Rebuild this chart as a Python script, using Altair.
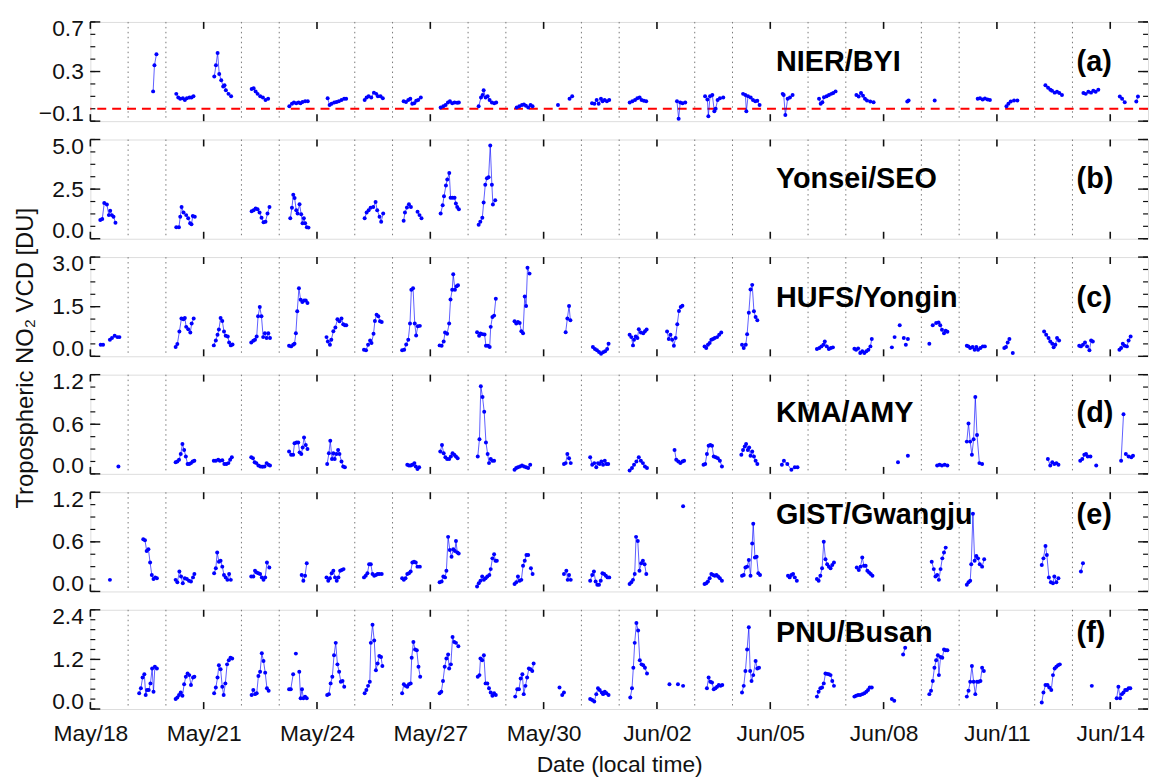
import altair as alt
import pandas as pd

# ---------------- axis structure ----------------
DAY_TICKS = [0, 3, 6, 9, 12, 15, 18, 21, 24, 27]
DAY_LABELS = ["May/18", "May/21", "May/24", "May/27", "May/30",
              "Jun/02", "Jun/05", "Jun/08", "Jun/11", "Jun/14"]
GRID_DAYS = [1, 2, 4, 5, 7, 8, 10, 11, 13, 14, 16, 17, 19, 20, 22, 23, 25, 26]
X_DOMAIN = [0, 28]
X_TITLE = "Date (local time)"
Y_TITLE = "Tropospheric NO\u2082 VCD [DU]"

SITES = ["NIER/BYI", "Yonsei/SEO", "HUFS/Yongin", "KMA/AMY", "GIST/Gwangju", "PNU/Busan"]
TAGS = ["(a)", "(b)", "(c)", "(d)", "(e)", "(f)"]
Y_DOMAINS = [[-0.1, 0.7], [0, 5], [0, 3], [0, 1.2], [0, 1.2], [0, 2.4]]
Y_MAJOR = [[-0.1, 0.3, 0.7], [0, 2.5, 5], [0, 1.5, 3], [0, 0.6, 1.2], [0, 0.6, 1.2], [0, 1.2, 2.4]]
Y_MINOR = [
    [-0.1, 0.0, 0.1, 0.2, 0.3, 0.4, 0.5, 0.6, 0.7],
    [0, 0.625, 1.25, 1.875, 2.5, 3.125, 3.75, 4.375, 5],
    [0, 0.375, 0.75, 1.125, 1.5, 1.875, 2.25, 2.625, 3],
    [0, 0.15, 0.3, 0.45, 0.6, 0.75, 0.9, 1.05, 1.2],
    [0, 0.15, 0.3, 0.45, 0.6, 0.75, 0.9, 1.05, 1.2],
    [0, 0.24, 0.48, 0.72, 0.96, 1.2, 1.44, 1.68, 1.92, 2.16, 2.4],
]
REF_LINE_A = 0.0

# ---------------- data: segments of [day since May/18 00:00, VCD] ----------------
NIER_BYI = [
    [[1.662, 0.14], [1.697, 0.35], [1.750, 0.44]],
    [[2.275, 0.12], [2.327, 0.09], [2.380, 0.08], [2.450, 0.085], [2.502, 0.07], [2.555, 0.085], [2.625, 0.09], [2.677, 0.09], [2.730, 0.10]],
    [[3.281, 0.26], [3.325, 0.35], [3.369, 0.45], [3.412, 0.28], [3.465, 0.23], [3.517, 0.18], [3.552, 0.19], [3.587, 0.15], [3.657, 0.12], [3.727, 0.10]],
    [[4.270, 0.16], [4.322, 0.165], [4.375, 0.14], [4.427, 0.12], [4.497, 0.10], [4.567, 0.09], [4.637, 0.07], [4.707, 0.08]],
    [[5.267, 0.02], [5.337, 0.04], [5.389, 0.05], [5.451, 0.045], [5.512, 0.05], [5.564, 0.045], [5.617, 0.055], [5.687, 0.06], [5.757, 0.06]],
    [[6.282, 0.085], [6.334, 0.03], [6.387, 0.04], [6.457, 0.05], [6.518, 0.055], [6.579, 0.06], [6.649, 0.07], [6.719, 0.08], [6.772, 0.08]],
    [[7.262, 0.07], [7.314, 0.09], [7.367, 0.10], [7.437, 0.09], [7.507, 0.13], [7.568, 0.12], [7.612, 0.10], [7.682, 0.10], [7.743, 0.085]],
    [[8.294, 0.06], [8.356, 0.055], [8.417, 0.07], [8.470, 0.08], [8.522, 0.04], [8.574, 0.045], [8.627, 0.065], [8.679, 0.07], [8.749, 0.09]],
    [[9.274, 0.01], [9.344, 0.02], [9.405, 0.03], [9.467, 0.05], [9.519, 0.06], [9.581, 0.045], [9.642, 0.05], [9.712, 0.048], [9.756, 0.05]],
    [[10.280, 0.02], [10.342, 0.09], [10.385, 0.11], [10.412, 0.15], [10.464, 0.09], [10.517, 0.10], [10.569, 0.07], [10.630, 0.05], [10.692, 0.045], [10.744, 0.05]],
    [[11.287, 0.01], [11.356, 0.02], [11.426, 0.03], [11.479, 0.035], [11.531, 0.025], [11.593, 0.01], [11.654, 0.03], [11.707, 0.02]],
    [[12.380, 0.03]],
    [[12.686, 0.08], [12.756, 0.10]],
    [[13.281, 0.045], [13.343, 0.04], [13.404, 0.07], [13.456, 0.04], [13.518, 0.08], [13.561, 0.06], [13.614, 0.07], [13.675, 0.06], [13.736, 0.07]],
    [[14.279, 0.05], [14.349, 0.06], [14.419, 0.07], [14.480, 0.085], [14.541, 0.09], [14.594, 0.07], [14.655, 0.065], [14.716, 0.06]],
    [[15.530, 0.06], [15.574, -0.08], [15.617, 0.05], [15.679, 0.045], [15.749, 0.05]],
    [[16.274, 0.10], [16.335, 0.075], [16.361, -0.06], [16.405, 0.10], [16.466, 0.11], [16.519, -0.02], [16.554, 0.0], [16.606, 0.07], [16.667, 0.085], [16.755, 0.09]],
    [[17.280, 0.12], [17.341, 0.11], [17.367, -0.02], [17.411, 0.10], [17.481, 0.09], [17.542, 0.07], [17.603, 0.06], [17.656, 0.065], [17.717, 0.03]],
    [[18.329, 0.12], [18.355, 0.11], [18.399, -0.05], [18.460, 0.08], [18.521, 0.09], [18.591, 0.11]],
    [[19.291, 0.08], [19.335, 0.04], [19.379, 0.053], [19.422, 0.093], [19.492, 0.10], [19.553, 0.11], [19.615, 0.12], [19.667, 0.127], [19.728, 0.14]],
    [[20.280, 0.11], [20.341, 0.098], [20.402, 0.127], [20.455, 0.105], [20.507, 0.08], [20.560, 0.066], [20.647, 0.058], [20.735, 0.053]],
    [[21.627, 0.058], [21.662, 0.066]],
    [[22.353, 0.066]],
    [[23.491, 0.08], [23.552, 0.085], [23.622, 0.074], [23.683, 0.082], [23.753, 0.074], [23.814, 0.071]],
    [[24.252, 0.02], [24.304, 0.04], [24.366, 0.058], [24.453, 0.066], [24.541, 0.066]],
    [[25.284, 0.19], [25.354, 0.17], [25.415, 0.153], [25.459, 0.145], [25.529, 0.13], [25.590, 0.137], [25.652, 0.127], [25.722, 0.11]],
    [[26.290, 0.127], [26.351, 0.12], [26.421, 0.137], [26.491, 0.13], [26.552, 0.145], [26.614, 0.137], [26.684, 0.153]],
    [[27.253, 0.098], [27.314, 0.08], [27.384, 0.053]],
    [[27.690, 0.058], [27.734, 0.098]],
]

YONSEI_SEO = [
    [[0.263, 0.94], [0.315, 0.99], [0.368, 1.80], [0.438, 1.72], [0.490, 1.19], [0.525, 1.41], [0.569, 1.19], [0.613, 1.11], [0.665, 0.81]],
    [[2.275, 0.58], [2.345, 0.58], [2.380, 1.11], [2.415, 1.60], [2.467, 1.32], [2.537, 1.19], [2.590, 1.03], [2.642, 0.78], [2.677, 0.73], [2.712, 1.14], [2.765, 1.11]],
    [[4.270, 1.39], [4.322, 1.44], [4.375, 1.52], [4.427, 1.49], [4.480, 1.32], [4.532, 1.06], [4.585, 0.83], [4.637, 0.86], [4.690, 1.27], [4.742, 1.60]],
    [[5.293, 1.03], [5.337, 1.56], [5.372, 2.22], [5.407, 2.05], [5.451, 1.44], [5.486, 1.27], [5.538, 1.74], [5.582, 1.23], [5.617, 0.78], [5.652, 1.03], [5.687, 0.78], [5.731, 0.58], [5.775, 0.56]],
    [[7.262, 1.03], [7.314, 1.32], [7.367, 1.44], [7.419, 1.56], [7.489, 1.60], [7.551, 1.85], [7.594, 1.44], [7.656, 1.11], [7.699, 0.86], [7.752, 1.27]],
    [[8.294, 0.91], [8.329, 1.32], [8.382, 1.57], [8.434, 1.74], [8.487, 1.60]],
    [[8.662, 1.36], [8.714, 1.19], [8.767, 1.03]],
    [[9.274, 1.27], [9.327, 1.69], [9.362, 2.14], [9.414, 2.68], [9.449, 2.98], [9.502, 3.31], [9.537, 2.07], [9.589, 2.07], [9.642, 2.07], [9.677, 1.77], [9.712, 1.60], [9.756, 1.49]],
    [[10.280, 0.70], [10.324, 0.86], [10.377, 1.06], [10.412, 1.82], [10.455, 2.72], [10.499, 3.05], [10.543, 3.10], [10.587, 4.70], [10.630, 2.72], [10.657, 1.72], [10.718, 1.94]],
]

HUFS_YONGIN = [
    [[0.274, 0.35], [0.337, 0.35]],
    [[0.518, 0.50], [0.572, 0.55], [0.644, 0.62], [0.716, 0.58], [0.770, 0.58]],
    [[2.258, 0.28], [2.303, 0.37], [2.357, 0.75], [2.411, 1.14], [2.465, 1.12], [2.501, 1.16], [2.537, 0.89], [2.591, 0.82], [2.646, 0.72], [2.682, 0.99], [2.736, 1.14]],
    [[3.268, 0.33], [3.322, 0.48], [3.367, 0.65], [3.403, 0.81], [3.448, 1.16], [3.493, 1.07], [3.538, 0.75], [3.583, 0.62], [3.638, 0.60], [3.674, 0.42], [3.719, 0.33], [3.764, 0.36]],
    [[4.260, 0.42], [4.314, 0.47], [4.359, 0.50], [4.404, 0.60], [4.440, 1.21], [4.485, 1.49], [4.530, 1.21], [4.575, 0.58], [4.620, 0.70], [4.666, 0.55], [4.711, 0.70], [4.756, 0.55]],
    [[5.261, 0.32], [5.315, 0.30], [5.369, 0.35], [5.405, 0.38], [5.441, 0.70], [5.477, 1.36], [5.522, 2.06], [5.567, 1.71], [5.612, 1.64], [5.657, 1.69], [5.703, 1.69], [5.748, 1.61]],
    [[6.252, 0.58], [6.288, 0.45], [6.343, 0.35], [6.379, 0.50], [6.433, 0.76], [6.487, 0.87], [6.541, 1.12], [6.595, 1.06], [6.649, 1.14], [6.694, 0.97], [6.739, 0.94], [6.775, 0.94]],
    [[7.244, 0.20], [7.298, 0.18], [7.352, 0.35], [7.407, 0.48], [7.443, 0.40], [7.497, 0.68], [7.533, 1.07], [7.578, 1.26], [7.623, 1.21], [7.668, 1.06], [7.713, 1.04]],
    [[8.254, 0.18], [8.308, 0.20], [8.362, 0.36], [8.416, 0.50], [8.462, 0.99], [8.498, 2.01], [8.543, 2.06], [8.588, 0.99], [8.624, 0.63], [8.669, 0.91], [8.723, 0.92]],
    [[9.246, 0.33], [9.300, 0.32], [9.354, 0.45], [9.390, 0.72], [9.445, 0.68], [9.499, 0.99], [9.535, 1.72], [9.580, 2.01], [9.607, 2.48], [9.652, 2.01], [9.697, 2.12], [9.733, 2.15]],
    [[10.238, 0.73], [10.292, 0.62], [10.328, 0.69], [10.382, 0.67], [10.436, 0.66], [10.473, 0.32], [10.527, 0.32], [10.572, 0.28], [10.599, 0.89], [10.644, 1.19], [10.689, 1.23], [10.734, 1.74]],
    [[11.230, 1.06], [11.275, 0.99], [11.320, 1.04], [11.365, 1.01], [11.410, 0.76], [11.455, 0.70], [11.500, 1.81], [11.536, 1.52], [11.573, 2.68], [11.627, 2.50]],
    [[12.583, 0.73], [12.628, 1.14], [12.673, 1.52], [12.709, 1.09]],
    [[13.304, 0.28], [13.358, 0.22], [13.412, 0.18], [13.466, 0.13], [13.520, 0.08], [13.574, 0.12], [13.628, 0.15], [13.682, 0.22], [13.719, 0.38]],
    [[14.276, 0.65], [14.321, 0.58], [14.366, 0.33], [14.393, 0.50], [14.438, 0.60], [14.483, 0.55], [14.519, 0.82], [14.574, 0.72], [14.637, 0.70], [14.682, 0.76], [14.727, 0.81]],
    [[15.268, 0.75], [15.313, 0.52], [15.358, 0.65], [15.403, 0.50], [15.448, 0.32], [15.493, 0.55], [15.538, 0.97], [15.583, 1.37], [15.629, 1.49], [15.674, 1.53]],
    [[16.260, 0.30], [16.305, 0.25], [16.350, 0.35], [16.395, 0.40], [16.440, 0.50], [16.485, 0.52], [16.530, 0.55], [16.593, 0.58], [16.647, 0.65], [16.702, 0.72]],
    [[17.252, 0.35], [17.297, 0.25], [17.351, 0.35], [17.387, 0.67], [17.432, 1.32], [17.477, 2.02], [17.522, 2.16], [17.567, 1.36], [17.612, 1.19], [17.657, 1.09]],
    [[19.235, 0.22], [19.299, 0.25], [19.353, 0.30], [19.407, 0.35], [19.443, 0.45], [19.497, 0.30], [19.551, 0.22], [19.605, 0.25], [19.659, 0.27]],
    [[20.227, 0.23], [20.272, 0.20], [20.326, 0.24], [20.381, 0.10], [20.435, 0.15], [20.489, 0.10], [20.543, 0.15], [20.597, 0.20], [20.651, 0.30], [20.687, 0.52]],
    [[21.219, 0.27]], [[21.291, 0.58]], [[21.427, 0.94]], [[21.535, 0.55]], [[21.589, 0.35]], [[21.643, 0.52]],
    [[22.211, 0.38]],
    [[22.301, 0.94], [22.391, 1.01], [22.455, 1.02], [22.500, 0.94], [22.545, 0.80], [22.599, 0.70], [22.644, 0.77], [22.689, 0.74]],
    [[23.203, 0.32], [23.248, 0.30], [23.293, 0.25], [23.356, 0.28], [23.410, 0.20], [23.455, 0.28], [23.500, 0.20], [23.564, 0.25], [23.627, 0.30], [23.681, 0.30]],
    [[24.195, 0.25], [24.240, 0.28], [24.285, 0.42], [24.330, 0.52]],
    [[24.420, 0.10]],
    [[25.250, 0.75], [25.304, 0.65], [25.367, 0.55], [25.412, 0.45], [25.466, 0.38], [25.502, 0.27], [25.547, 0.35], [25.592, 0.55], [25.646, 0.48]],
    [[26.179, 0.32], [26.224, 0.30], [26.278, 0.35], [26.332, 0.42], [26.386, 0.30], [26.449, 0.18], [26.494, 0.48], [26.539, 0.45]],
    [[27.243, 0.20], [27.288, 0.25], [27.333, 0.38], [27.378, 0.32], [27.441, 0.30], [27.486, 0.48], [27.540, 0.60]],
]

KMA_AMY = [
    [[0.743, 0.09]],
    [[2.258, 0.14], [2.303, 0.15], [2.348, 0.17], [2.393, 0.24], [2.438, 0.36], [2.483, 0.29], [2.528, 0.21], [2.574, 0.12], [2.619, 0.12], [2.664, 0.13], [2.709, 0.15], [2.754, 0.16]],
    [[3.268, 0.16], [3.322, 0.16], [3.385, 0.17], [3.430, 0.16], [3.493, 0.165], [3.548, 0.12], [3.602, 0.12], [3.655, 0.13], [3.701, 0.17], [3.746, 0.20]],
    [[4.260, 0.20], [4.305, 0.19], [4.350, 0.14], [4.395, 0.13], [4.449, 0.10], [4.503, 0.09], [4.557, 0.085], [4.611, 0.09], [4.666, 0.13], [4.711, 0.11], [4.756, 0.10]],
    [[5.261, 0.27], [5.315, 0.23], [5.369, 0.23], [5.405, 0.37], [5.459, 0.38], [5.504, 0.38], [5.540, 0.26], [5.585, 0.24], [5.621, 0.32], [5.657, 0.44], [5.703, 0.35], [5.748, 0.30]],
    [[6.270, 0.12], [6.315, 0.25], [6.352, 0.40], [6.397, 0.18], [6.433, 0.25], [6.469, 0.18], [6.514, 0.24], [6.559, 0.29], [6.595, 0.24], [6.649, 0.15], [6.694, 0.09], [6.739, 0.08]],
    [[8.390, 0.11], [8.435, 0.10], [8.480, 0.10], [8.525, 0.11], [8.579, 0.13], [8.615, 0.09], [8.660, 0.06], [8.705, 0.08]],
    [[9.264, 0.27], [9.309, 0.35], [9.354, 0.25], [9.399, 0.20], [9.445, 0.18], [9.499, 0.18], [9.544, 0.21], [9.589, 0.25], [9.634, 0.23], [9.679, 0.21], [9.724, 0.19]],
    [[10.256, 0.21], [10.301, 0.42], [10.337, 1.06], [10.382, 0.93], [10.427, 0.75], [10.473, 0.38], [10.518, 0.24], [10.554, 0.13], [10.599, 0.18], [10.644, 0.16], [10.689, 0.16]],
    [[11.230, 0.05], [11.275, 0.07], [11.320, 0.08], [11.374, 0.09], [11.428, 0.10], [11.482, 0.09], [11.536, 0.08], [11.591, 0.07], [11.645, 0.11]],
    [[12.538, 0.12], [12.583, 0.13], [12.628, 0.24], [12.673, 0.19], [12.718, 0.13]],
    [[13.232, 0.20], [13.286, 0.11], [13.340, 0.13], [13.394, 0.08], [13.439, 0.13], [13.484, 0.12], [13.529, 0.15], [13.574, 0.11], [13.619, 0.16], [13.664, 0.12], [13.710, 0.12]],
    [[14.276, 0.04], [14.339, 0.07], [14.393, 0.11], [14.456, 0.15], [14.519, 0.20], [14.574, 0.16], [14.628, 0.13], [14.682, 0.09], [14.736, 0.07]],
    [[15.466, 0.29], [15.511, 0.17], [15.565, 0.15], [15.620, 0.13], [15.674, 0.15], [15.719, 0.16]],
    [[16.233, 0.11], [16.278, 0.12], [16.323, 0.24], [16.368, 0.34], [16.413, 0.35], [16.458, 0.34], [16.503, 0.21], [16.557, 0.20], [16.611, 0.19], [16.666, 0.16], [16.720, 0.09]],
    [[17.234, 0.23], [17.279, 0.29], [17.324, 0.33], [17.360, 0.36], [17.405, 0.29], [17.441, 0.32], [17.477, 0.22], [17.522, 0.27], [17.567, 0.21], [17.612, 0.16], [17.657, 0.12]],
    [[18.307, 0.11], [18.361, 0.16], [18.451, 0.12], [18.559, 0.05], [18.649, 0.08], [18.721, 0.08]],
    [[21.381, 0.14]],
    [[21.643, 0.22]],
    [[22.418, 0.10], [22.481, 0.11], [22.545, 0.10], [22.617, 0.11], [22.689, 0.10]],
    [[23.203, 0.39], [23.248, 0.61], [23.293, 0.39], [23.338, 0.23], [23.383, 0.42], [23.428, 0.93], [23.473, 0.47], [23.536, 0.13], [23.608, 0.12]],
    [[25.349, 0.18], [25.412, 0.10], [25.466, 0.14], [25.520, 0.12], [25.574, 0.13], [25.629, 0.11]],
    [[26.206, 0.16], [26.260, 0.18], [26.314, 0.23], [26.359, 0.24], [26.404, 0.21], [26.476, 0.21]],
    [[26.629, 0.10]],
    [[27.288, 0.16], [27.351, 0.72]],
    [[27.413, 0.24], [27.486, 0.21], [27.558, 0.20], [27.603, 0.22]],
]

GIST_GWANGJU = [
    [[0.518, 0.14]],
    [[1.401, 0.63], [1.446, 0.62], [1.491, 0.49], [1.537, 0.51], [1.582, 0.35], [1.627, 0.20], [1.672, 0.15], [1.717, 0.17], [1.762, 0.16]],
    [[2.258, 0.14], [2.303, 0.11], [2.357, 0.24], [2.402, 0.18], [2.447, 0.10], [2.501, 0.16], [2.555, 0.15], [2.610, 0.13], [2.664, 0.12], [2.718, 0.17], [2.754, 0.21]],
    [[3.277, 0.22], [3.322, 0.28], [3.358, 0.47], [3.403, 0.36], [3.448, 0.37], [3.493, 0.30], [3.538, 0.20], [3.583, 0.17], [3.628, 0.14], [3.674, 0.21], [3.719, 0.14]],
    [[4.260, 0.18], [4.314, 0.18], [4.359, 0.25], [4.404, 0.23], [4.449, 0.22], [4.494, 0.21], [4.539, 0.17], [4.584, 0.14], [4.629, 0.17], [4.675, 0.35], [4.738, 0.29]],
    [[5.594, 0.20], [5.639, 0.13], [5.684, 0.19], [5.729, 0.34]],
    [[6.252, 0.17], [6.298, 0.13], [6.343, 0.16], [6.388, 0.22], [6.433, 0.25], [6.478, 0.17], [6.523, 0.13], [6.568, 0.17], [6.613, 0.25], [6.658, 0.26], [6.703, 0.27]],
    [[7.244, 0.17], [7.290, 0.19], [7.335, 0.22], [7.380, 0.33], [7.425, 0.33], [7.470, 0.21], [7.515, 0.19], [7.560, 0.20], [7.605, 0.21], [7.650, 0.21], [7.713, 0.21]],
    [[8.254, 0.16], [8.299, 0.14], [8.344, 0.16], [8.390, 0.21], [8.435, 0.22], [8.480, 0.24], [8.525, 0.35], [8.570, 0.36], [8.615, 0.35], [8.660, 0.30], [8.723, 0.30]],
    [[9.246, 0.11], [9.300, 0.12], [9.345, 0.18], [9.390, 0.17], [9.426, 0.25], [9.471, 0.66], [9.517, 0.50], [9.562, 0.42], [9.607, 0.51], [9.652, 0.49], [9.679, 0.61], [9.715, 0.47], [9.751, 0.46]],
    [[10.238, 0.06], [10.283, 0.10], [10.328, 0.13], [10.373, 0.18], [10.418, 0.14], [10.463, 0.16], [10.509, 0.18], [10.563, 0.20], [10.599, 0.27], [10.644, 0.40], [10.689, 0.45], [10.725, 0.37], [10.761, 0.37]],
    [[11.230, 0.09], [11.275, 0.11], [11.320, 0.18], [11.365, 0.13], [11.410, 0.14], [11.455, 0.31], [11.500, 0.37], [11.545, 0.44], [11.591, 0.44]],
    [[11.663, 0.28], [11.708, 0.21]],
    [[12.538, 0.21], [12.601, 0.25], [12.637, 0.14], [12.673, 0.20], [12.718, 0.14]],
    [[13.232, 0.13], [13.286, 0.20], [13.331, 0.24], [13.376, 0.12], [13.421, 0.08], [13.466, 0.08], [13.512, 0.13], [13.557, 0.22], [13.602, 0.21], [13.647, 0.19], [13.692, 0.17], [13.737, 0.17]],
    [[14.276, 0.09], [14.321, 0.11], [14.366, 0.14], [14.411, 0.21], [14.447, 0.66], [14.492, 0.61], [14.537, 0.25], [14.583, 0.34], [14.628, 0.37], [14.673, 0.33], [14.718, 0.21]],
    [[15.692, 1.03]],
    [[16.260, 0.09], [16.305, 0.10], [16.350, 0.12], [16.395, 0.16], [16.440, 0.21], [16.485, 0.20], [16.530, 0.19], [16.575, 0.20], [16.620, 0.18], [16.665, 0.16], [16.720, 0.13]],
    [[17.252, 0.19], [17.297, 0.20], [17.342, 0.29], [17.387, 0.30], [17.432, 0.38], [17.477, 0.19], [17.522, 0.58], [17.549, 0.82], [17.594, 0.41], [17.639, 0.42], [17.684, 0.22], [17.729, 0.20]],
    [[18.469, 0.19], [18.514, 0.17], [18.559, 0.20], [18.604, 0.21], [18.649, 0.17], [18.703, 0.13]],
    [[19.235, 0.15], [19.280, 0.13], [19.326, 0.19], [19.371, 0.28], [19.416, 0.60], [19.461, 0.39], [19.506, 0.33], [19.551, 0.30], [19.596, 0.28], [19.641, 0.32], [19.686, 0.35]],
    [[20.290, 0.29], [20.344, 0.26], [20.389, 0.30], [20.435, 0.41], [20.480, 0.31], [20.525, 0.31], [20.570, 0.25], [20.615, 0.23], [20.660, 0.21], [20.705, 0.19]],
    [[22.274, 0.36], [22.328, 0.27], [22.373, 0.18], [22.418, 0.20], [22.463, 0.14], [22.508, 0.27], [22.554, 0.40], [22.599, 0.47], [22.644, 0.53]],
    [[23.203, 0.08], [23.248, 0.11], [23.293, 0.13], [23.320, 0.33], [23.365, 0.94], [23.410, 0.37], [23.455, 0.43], [23.500, 0.40], [23.546, 0.33], [23.608, 0.30], [23.663, 0.39]],
    [[25.187, 0.32], [25.232, 0.40], [25.286, 0.55], [25.322, 0.44], [25.376, 0.17], [25.430, 0.11], [25.484, 0.10], [25.520, 0.18], [25.574, 0.11], [25.628, 0.16]],
    [[26.224, 0.24], [26.278, 0.34]],
]

PNU_BUSAN = [
    [[1.293, 0.38], [1.338, 0.50], [1.383, 0.76], [1.429, 0.84], [1.465, 0.34], [1.501, 0.46], [1.546, 0.46], [1.591, 0.62], [1.636, 0.98], [1.672, 0.42], [1.708, 1.02], [1.762, 0.98]],
    [[2.258, 0.24], [2.303, 0.28], [2.348, 0.34], [2.393, 0.40], [2.438, 0.32], [2.483, 0.60], [2.528, 0.78], [2.574, 0.86], [2.619, 0.82], [2.664, 0.58], [2.718, 0.76], [2.754, 0.78]],
    [[3.277, 0.38], [3.322, 0.52], [3.367, 0.76], [3.403, 1.06], [3.448, 0.96], [3.493, 0.54], [3.529, 0.34], [3.574, 0.62], [3.619, 1.08], [3.665, 1.18], [3.710, 1.24], [3.755, 1.22]],
    [[4.269, 0.34], [4.314, 0.46], [4.359, 0.36], [4.404, 0.38], [4.449, 0.80], [4.494, 0.90], [4.539, 1.35], [4.584, 1.16], [4.629, 0.88], [4.675, 0.50], [4.720, 0.44]],
    [[5.261, 0.48], [5.306, 0.48], [5.369, 0.84]],
    [[5.441, 1.34]],
    [[5.531, 0.90], [5.567, 0.26], [5.603, 0.48], [5.639, 0.26], [5.684, 0.30], [5.729, 0.26]],
    [[6.270, 0.34], [6.315, 0.36], [6.361, 0.62], [6.406, 0.78], [6.451, 1.30], [6.496, 1.60], [6.541, 1.08], [6.586, 0.90], [6.631, 0.66], [6.676, 0.68], [6.721, 0.54]],
    [[7.262, 0.38], [7.307, 0.46], [7.352, 0.56], [7.398, 0.66], [7.425, 1.60], [7.470, 2.04], [7.515, 1.66], [7.560, 0.94], [7.605, 1.10], [7.650, 1.28], [7.695, 1.26], [7.731, 1.04]],
    [[8.254, 0.38], [8.299, 0.60], [8.344, 0.56], [8.390, 0.54], [8.435, 0.60], [8.480, 0.62], [8.507, 1.24], [8.552, 1.62], [8.597, 1.44], [8.642, 1.42], [8.687, 1.02], [8.732, 0.78]],
    [[9.246, 0.38], [9.291, 0.42], [9.336, 0.68], [9.381, 1.02], [9.426, 1.22], [9.471, 1.32], [9.499, 0.98], [9.544, 1.08], [9.589, 1.74], [9.634, 1.62], [9.679, 1.60], [9.742, 1.52]],
    [[10.256, 0.78], [10.301, 0.82], [10.328, 1.22], [10.373, 1.18], [10.418, 1.30], [10.463, 0.62], [10.509, 0.62], [10.554, 0.50], [10.599, 0.40], [10.644, 0.32], [10.689, 0.38], [10.734, 0.34]],
    [[11.248, 0.30], [11.302, 0.48], [11.347, 0.48], [11.392, 0.74], [11.437, 0.84], [11.473, 0.36], [11.518, 0.56], [11.563, 0.76], [11.609, 0.98], [11.654, 0.96], [11.699, 0.92], [11.735, 1.10]],
    [[12.420, 0.52]],
    [[12.492, 0.34], [12.538, 0.40]],
    [[13.232, 0.24], [13.286, 0.22], [13.340, 0.18], [13.394, 0.36], [13.439, 0.50], [13.484, 0.46], [13.539, 0.40], [13.574, 0.36], [13.619, 0.42], [13.664, 0.38], [13.719, 0.34]],
    [[14.294, 0.28], [14.339, 0.50], [14.375, 1.00], [14.411, 1.60], [14.456, 2.08], [14.501, 1.90], [14.546, 1.18], [14.592, 1.08], [14.637, 1.06], [14.682, 1.00], [14.736, 0.86]],
    [[15.331, 0.60]], [[15.556, 0.60]], [[15.692, 0.56]],
    [[16.323, 0.50], [16.368, 0.76], [16.413, 0.66], [16.458, 0.64], [16.503, 0.48], [16.548, 0.50], [16.593, 0.54], [16.638, 0.58], [16.684, 0.56], [16.729, 0.58]],
    [[17.252, 0.40], [17.297, 0.56], [17.342, 0.92], [17.387, 1.44], [17.432, 1.98], [17.468, 0.92], [17.504, 0.68], [17.549, 0.82], [17.612, 1.16], [17.657, 0.98], [17.702, 1.00]],
    [[19.235, 0.30], [19.280, 0.42], [19.326, 0.50], [19.371, 0.52], [19.416, 0.62], [19.461, 0.86], [19.506, 0.85], [19.551, 0.84], [19.596, 0.82], [19.641, 0.68], [19.686, 0.56]],
    [[20.227, 0.30], [20.272, 0.32], [20.326, 0.34], [20.381, 0.34], [20.435, 0.36], [20.489, 0.38], [20.543, 0.42], [20.588, 0.46], [20.633, 0.52], [20.687, 0.52]],
    [[21.219, 0.24], [21.282, 0.20]],
    [[21.517, 1.32], [21.571, 1.48]],
    [[22.211, 0.36], [22.256, 0.44], [22.301, 0.68], [22.346, 1.00], [22.391, 1.18], [22.437, 1.30], [22.464, 0.82], [22.509, 1.26], [22.554, 1.24], [22.599, 1.44], [22.644, 1.42], [22.689, 1.42]],
    [[23.203, 0.30], [23.248, 0.44], [23.293, 0.66], [23.338, 1.04], [23.383, 0.66], [23.428, 0.36], [23.473, 0.66], [23.518, 0.66], [23.564, 0.68], [23.608, 1.00], [23.654, 0.92]],
    [[25.187, 0.16], [25.232, 0.40], [25.286, 0.58], [25.340, 0.58], [25.385, 0.52], [25.439, 0.46], [25.484, 0.82], [25.529, 0.98], [25.574, 1.02], [25.619, 1.06], [25.665, 1.08]],
    [[26.512, 0.56]],
    [[27.171, 0.26], [27.216, 0.54], [27.261, 0.26], [27.306, 0.36], [27.351, 0.40], [27.396, 0.46], [27.441, 0.46], [27.486, 0.50], [27.531, 0.50]],
]

SERIES = [NIER_BYI, YONSEI_SEO, HUFS_YONGIN, KMA_AMY, GIST_GWANGJU, PNU_BUSAN]
LABEL_Y = [40, 40, 41, 39, 23, 23]

# ---------------- layout constants ----------------
W, H = 1066, 100
FONT = "Liberation Sans"
BLUE = "#0000ff"


def seg_frame(segs):
    rows = []
    for i, seg in enumerate(segs):
        for t, v in seg:
            rows.append({"t": t, "v": v, "seg": i})
    return pd.DataFrame(rows)


label_expr = "[" + ",".join("'%s'" % s for s in DAY_LABELS) + "][round(datum.value/3)]"


def make_panel(k, bottom):
    xs = alt.Scale(domain=X_DOMAIN, nice=False, zero=False)
    ys = alt.Scale(domain=Y_DOMAINS[k], nice=False, zero=False)
    xaxis = alt.Axis(values=DAY_TICKS, labelExpr=label_expr, tickSize=0, domain=False,
                     grid=False, labels=bottom, labelFontSize=23, labelPadding=14,
                     labelFlush=False, labelFont=FONT, labelColor="#111",
                     title=X_TITLE if bottom else None, titleFontSize=23,
                     titleFontWeight="normal", titleFont=FONT, titlePadding=8,
                     titleColor="#111")
    yaxis = alt.Axis(values=Y_MAJOR[k], format=".1f", tickSize=0, domain=False,
                     grid=False, labelFontSize=23, labelPadding=7, labelFlush=True,
                     labelFlushOffset=4, labelFont=FONT, labelColor="#111", title=None)
    X = alt.X("t:Q", scale=xs, axis=xaxis)
    Y = alt.Y("v:Q", scale=ys, axis=yaxis)

    df = seg_frame(SERIES[k])
    grid_df = pd.DataFrame({"t": GRID_DAYS})
    xt_df = pd.DataFrame({"t": DAY_TICKS})
    maj_df = pd.DataFrame({"v": Y_MAJOR[k]})
    min_df = pd.DataFrame({"v": Y_MINOR[k]})

    layers = []
    layers.append(alt.Chart(grid_df).mark_rule(color="#777", strokeDash=[1.5, 3.5], strokeWidth=1)
                  .encode(x=X))
    layers.append(alt.Chart(xt_df).mark_rule(color="#111", strokeWidth=1.6)
                  .encode(x=X, y=alt.value(0), y2=alt.value(7)))
    layers.append(alt.Chart(xt_df).mark_rule(color="#111", strokeWidth=1.6)
                  .encode(x=X, y=alt.value(H - 7), y2=alt.value(H)))
    layers.append(alt.Chart(maj_df).mark_rule(color="#111", strokeWidth=1.4)
                  .encode(y=Y, x=alt.value(0), x2=alt.value(10)))
    layers.append(alt.Chart(maj_df).mark_rule(color="#111", strokeWidth=1.4)
                  .encode(y=Y, x=alt.value(W - 10), x2=alt.value(W)))
    layers.append(alt.Chart(min_df).mark_rule(color="#111", strokeWidth=1.2)
                  .encode(y=Y, x=alt.value(0), x2=alt.value(5)))
    layers.append(alt.Chart(min_df).mark_rule(color="#111", strokeWidth=1.2)
                  .encode(y=Y, x=alt.value(W - 5), x2=alt.value(W)))
    if k == 0:
        layers.append(alt.Chart(pd.DataFrame({"v": [REF_LINE_A]}))
                      .mark_rule(color="#ff0000", strokeDash=[9, 6], strokeWidth=2)
                      .encode(y=Y))
    layers.append(alt.Chart(df).mark_line(color=BLUE, strokeWidth=0.9, opacity=0.7)
                  .encode(x=X, y=Y, detail="seg:N"))
    layers.append(alt.Chart(df).mark_circle(color=BLUE, size=16, opacity=1)
                  .encode(x=X, y=Y))
    txt = pd.DataFrame({"site": [SITES[k]], "tag": [TAGS[k]]})
    layers.append(alt.Chart(txt).mark_text(align="left", baseline="middle", fontSize=29,
                                           fontWeight="bold", font=FONT, color="#000")
                  .encode(x=alt.value(691), y=alt.value(LABEL_Y[k]), text="site:N"))
    layers.append(alt.Chart(txt).mark_text(align="left", baseline="middle", fontSize=29,
                                           fontWeight="bold", font=FONT, color="#000")
                  .encode(x=alt.value(994), y=alt.value(LABEL_Y[k]), text="tag:N"))
    if k == 2:
        ttl = pd.DataFrame({"title": [Y_TITLE]})
        layers.append(alt.Chart(ttl).mark_text(angle=270, align="center", baseline="middle",
                                               fontSize=24, font=FONT, color="#111")
                      .encode(x=alt.value(-65), y=alt.value(102), text="title:N"))
    return alt.layer(*layers).properties(width=W, height=H)


panels = [make_panel(k, k == 5) for k in range(6)]
chart = alt.vconcat(*panels, spacing=18.5, bounds="flush").properties(
    padding={"left": 5, "top": 6, "right": 0, "bottom": 0}
).configure_view(stroke="#222", strokeWidth=1.6).configure(font=FONT)

chart.save("out.html", embed_options={"renderer": "svg", "actions": False})
